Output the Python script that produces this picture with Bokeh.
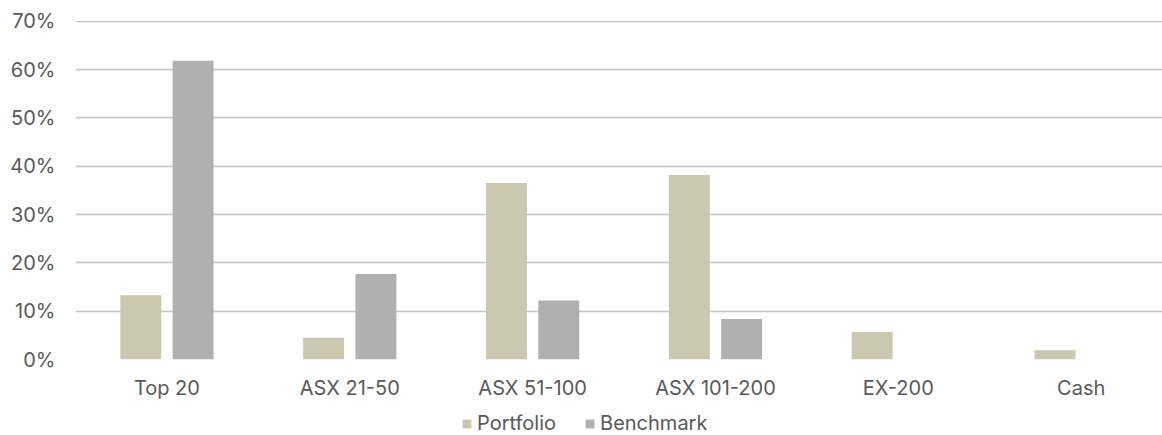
from bokeh.plotting import figure
from bokeh.layouts import column
from bokeh.models import (ColumnDataSource, FixedTicker, NumeralTickFormatter,
                          Legend, LegendItem, Range1d)
from bokeh.transform import dodge
from bokeh.embed import file_html
from bokeh.resources import INLINE

categories = ["Top 20", "ASX 21-50", "ASX 51-100", "ASX 101-200", "EX-200", "Cash"]
portfolio = [0.133, 0.045, 0.365, 0.382, 0.057, 0.019]
benchmark = [0.618, 0.177, 0.122, 0.084, 0.0, 0.0]
y_ticks = [0.0, 0.1, 0.2, 0.3, 0.4, 0.5, 0.6, 0.7]
series_names = ["Portfolio", "Benchmark"]

FONT = "Inter"
TXT = "#595959"
C_PORT = "#CAC9AF"
C_BENCH = "#B0B0B0"
FS = "20px"

src = ColumnDataSource(dict(x=list(range(len(categories))), cat=categories,
                            portfolio=portfolio, benchmark=benchmark))

W = 1162
p = figure(width=W, height=405, output_backend="svg", toolbar_location=None,
           x_range=Range1d(-0.5, -0.5 + (W - 75.3) / 182.8), y_range=Range1d(0, 0.7015),
           min_border_left=75, min_border_right=0, min_border_top=20,
           min_border_bottom=46)
p.outline_line_color = None
p.background_fill_color = "white"
p.border_fill_color = "white"

r1 = p.vbar(x=dodge("x", -0.143, range=p.x_range), top="portfolio", width=0.224,
            source=src, fill_color=C_PORT, line_color=None)
r2 = p.vbar(x=dodge("x", 0.143, range=p.x_range), top="benchmark", width=0.224,
            source=src, fill_color=C_BENCH, line_color=None)

p.xgrid.grid_line_color = None
p.ygrid.grid_line_color = "#C4C4C4"
p.ygrid.grid_line_width = 1.6
p.ygrid.ticker = FixedTicker(ticks=y_ticks)

p.yaxis.ticker = FixedTicker(ticks=y_ticks)
p.yaxis.formatter = NumeralTickFormatter(format="0%")
p.yaxis.axis_line_color = None
p.yaxis.major_tick_line_color = None
p.yaxis.minor_tick_line_color = None
p.yaxis.major_label_standoff = 14
p.yaxis.major_label_text_font = FONT
p.yaxis.major_label_text_font_size = FS
p.yaxis.major_label_text_color = TXT

p.xaxis.ticker = FixedTicker(ticks=list(range(len(categories))))
p.xaxis.major_label_overrides = {i: c for i, c in enumerate(categories)}
p.xaxis.axis_line_color = None
p.xaxis.major_tick_line_color = None
p.xaxis.minor_tick_line_color = None
p.xaxis.major_label_standoff = 10
p.xaxis.major_label_text_font = FONT
p.xaxis.major_label_text_font_size = FS
p.xaxis.major_label_text_color = TXT

# legend strip below the chart (its bars lie outside its visible y range)
lg = figure(width=W, height=30, output_backend="svg", toolbar_location=None,
            x_range=Range1d(-0.5, 5.5), y_range=Range1d(10, 11),
            min_border_left=0, min_border_right=0, min_border_top=0,
            min_border_bottom=0)
lg.outline_line_color = None
lg.axis.visible = False
lg.grid.grid_line_color = None
d1 = lg.vbar(x="x", top="portfolio", width=0.224, source=src,
             fill_color=C_PORT, line_color=None)
d2 = lg.vbar(x="x", top="benchmark", width=0.224, source=src,
             fill_color=C_BENCH, line_color=None)
legend = Legend(items=[LegendItem(label=series_names[0], renderers=[d1]),
                       LegendItem(label=series_names[1], renderers=[d2])],
                orientation="horizontal", location=(386, 0),
                glyph_width=11, glyph_height=11, label_standoff=5, spacing=28,
                padding=0, margin=0, border_line_color=None,
                background_fill_alpha=0,
                label_text_font=FONT, label_text_font_size=FS,
                label_text_color=TXT)
lg.add_layout(legend, "center")

layout = column(p, lg, spacing=0)
open("out.html", "w").write(file_html(layout, INLINE))
